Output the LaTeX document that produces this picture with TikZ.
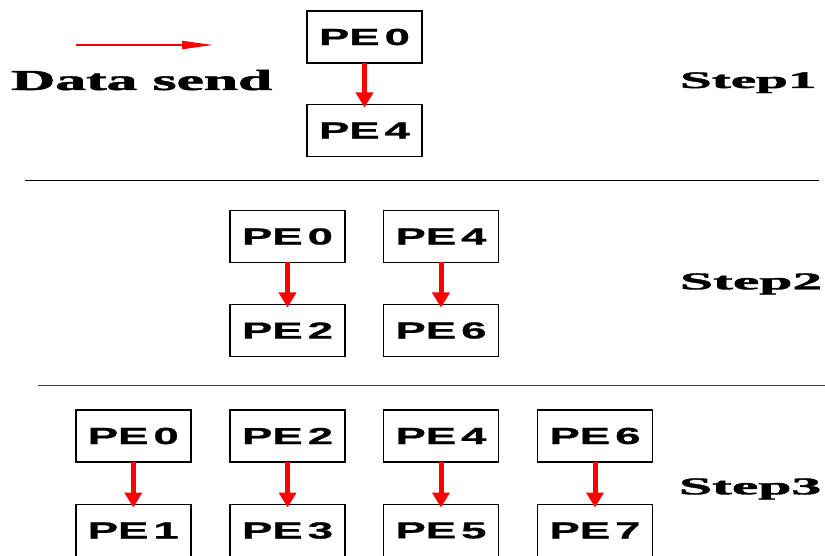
\documentclass[tikz,border=0pt]{standalone}
\usepackage{fontspec}
\usepackage{graphicx}
\usetikzlibrary{arrows.meta}
\newfontfamily\pefont[WordSpace=0.4, FakeBold=0.8]{Liberation Sans Bold}
\newfontfamily\capfont[FakeBold=1.5]{Liberation Serif Bold}
% wide bold label used inside the processor boxes
\newcommand{\pelabel}[1]{\scalebox{1.95}[1]{\pefont\fontsize{23.3}{24}\selectfont #1}}
% stretched bold serif captions: size, horizontal stretch, text
\newcommand{\captext}[3]{\scalebox{#2}[1]{\capfont\fontsize{#1}{#1}\selectfont #3}}
\tikzset{
  pebox/.style={draw=black, line width=1.8pt, minimum width=115pt,
    minimum height=52pt, inner sep=0pt, outer sep=0pt, fill=white},
  sendarrow/.style={draw=red, line width=5pt,
    -{Triangle[length=15pt,width=17pt]}, shorten >=-3pt},
  legendarrow/.style={draw=red, line width=2pt,
    -{Triangle[length=31pt,width=8pt]}},
  caption/.style={anchor=base west, inner sep=0pt, outer sep=0pt},
  divider/.style={line width=1.4pt},
}
\begin{document}
\begin{tikzpicture}[x=1pt, y=-1pt]
  \useasboundingbox (0,0) rectangle (825,556);

  % legend
  \coordinate (ls) at (76,45);
  \coordinate (le) at (213,45);
  \draw[legendarrow] (ls) -- (le);
  \node[caption] (legend) at (11,90) {\captext{29}{2.12}{Data send}};

  % step 1
  \node[pebox] (s1a) at (364.5,37) {\pelabel{PE 0}};
  \node[pebox] (s1b) at (364.5,130.5) {\pelabel{PE 4}};
  \draw[sendarrow] (s1a.south) -- (s1b.north);
  \node[caption] (step1) at (680,88) {\captext{23.6}{2.42}{Step1}};

  \coordinate (d1a) at (25,180.5);
  \coordinate (d1b) at (819,180.5);
  \draw[divider] (d1a) -- (d1b);

  % step 2
  \node[pebox] (s2a) at (287.5,236.5) {\pelabel{PE 0}};
  \node[pebox] (s2b) at (441,236.5) {\pelabel{PE 4}};
  \node[pebox] (s2c) at (287.5,330.5) {\pelabel{PE 2}};
  \node[pebox] (s2d) at (441,330.5) {\pelabel{PE 6}};
  \draw[sendarrow] (s2a.south) -- (s2c.north);
  \draw[sendarrow] (s2b.south) -- (s2d.north);
  \node[caption] (step2) at (680,289.3) {\captext{24}{2.48}{Step2}};

  \coordinate (d2a) at (38,385.5);
  \coordinate (d2b) at (826,385.5);
  \draw[divider, draw=black!75] (d2a) -- (d2b);

  % step 3
  \node[pebox] (s3a) at (133.3,436) {\pelabel{PE 0}};
  \node[pebox] (s3b) at (287.6,436) {\pelabel{PE 2}};
  \node[pebox] (s3c) at (441,436) {\pelabel{PE 4}};
  \node[pebox] (s3d) at (595,436) {\pelabel{PE 6}};
  \node[pebox] (s3e) at (133.3,530.5) {\pelabel{PE 1}};
  \node[pebox] (s3f) at (287.6,530.5) {\pelabel{PE 3}};
  \node[pebox] (s3g) at (441,530.5) {\pelabel{PE 5}};
  \node[pebox] (s3h) at (595,530.5) {\pelabel{PE 7}};
  \draw[sendarrow] (s3a.south) -- (s3e.north);
  \draw[sendarrow] (s3b.south) -- (s3f.north);
  \draw[sendarrow] (s3c.south) -- (s3g.north);
  \draw[sendarrow] (s3d.south) -- (s3h.north);
  \node[caption] (step3) at (679,494.3) {\captext{24}{2.48}{Step3}};
\end{tikzpicture}
\end{document}
